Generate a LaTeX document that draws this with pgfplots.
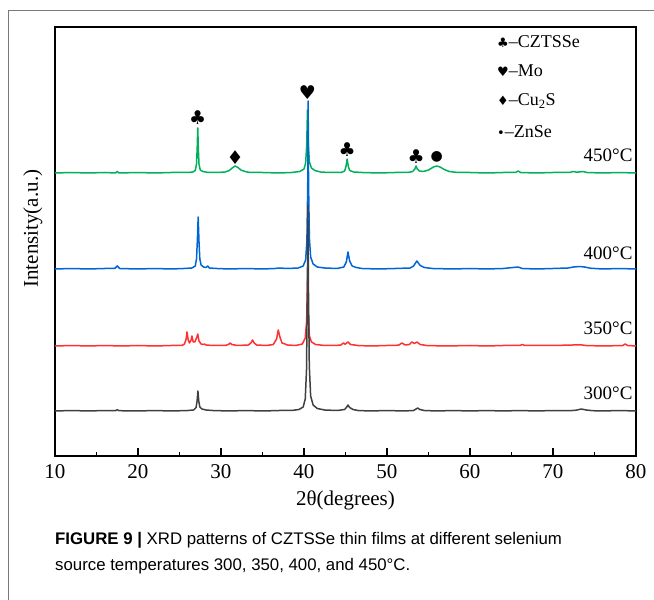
\documentclass[border=0pt]{standalone}
\usepackage{pgfplots}
\pgfplotsset{compat=1.18}
\usepackage{fontspec}
\setmainfont{Liberation Serif}
\newfontfamily\symfont{DejaVu Sans}
\newfontfamily\capfont{Liberation Sans}

\definecolor{cgreen}{RGB}{0,176,90}
\definecolor{cblue}{RGB}{0,102,214}
\definecolor{cred}{RGB}{255,48,48}
\definecolor{cgray}{RGB}{64,64,64}
\definecolor{frame}{RGB}{120,120,120}

\begin{document}
\begin{tikzpicture}
\useasboundingbox (-55pt,-144pt) rectangle (599pt,456pt);
% figure frame lines
\draw[frame,line width=0.8pt] (-47pt,446pt) -- (599pt,446pt);
\draw[frame,line width=0.8pt] (-47pt,446pt) -- (-47pt,-144pt);
\begin{axis}[
  scale only axis,
  width=581pt, height=429pt,
  xmin=10, xmax=80, ymin=0, ymax=429,
  xtick={10,20,...,80},
  minor x tick num=1,
  ytick=\empty,
  xtick pos=bottom,
  tick align=inside,
  major tick length=8pt,
  minor tick length=4pt,
  axis line style={line width=1.2pt},
  every tick/.style={black,line width=1.2pt},
  /pgf/number format/assume math mode=true,
  ticklabel style={font=\fontsize{21}{24}\selectfont},
  xticklabel style={yshift=-5pt},
  xlabel={2θ(degrees)},
  xlabel style={font=\fontsize{21}{24}\selectfont, yshift=-5pt},
  ylabel={Intensity(a.u.)},
  ylabel style={font=\fontsize{21}{24}\selectfont, at={(axis description cs:-0.038,0.53)}, anchor=center},
  every axis plot/.append style={line width=1.5pt, no marks, line join=round},
  clip=false,
]
% 450 C
\addplot[cgreen] coordinates {
(10,283) (12,283.5) (14,283) (16,283.5) (17.3,283) (17.5,284.5) (17.7,283) (20,283.5) (22,283) (24,283.5) (26,283.5) (26.6,284) (26.9,285.5) (27.05,292) (27.13,307) (27.2,328) (27.27,307) (27.35,292) (27.5,286) (27.8,284.5) (28.5,283.5) (29.5,283.5) (30.5,284) (31.0,285.5) (31.35,288) (31.7,290) (32.05,288.5) (32.4,286) (32.9,284.5) (33.5,283.5) (35,283.5) (37,283) (38.5,283.5) (39.5,284.5) (40.0,287) (40.2,293) (40.32,310) (40.42,346) (40.52,312) (40.65,294) (40.9,288) (41.3,285.5) (42,284) (43,283.5) (44.5,283.5) (44.9,285) (45.07,290) (45.2,297) (45.33,290) (45.5,285.5) (46,284) (47,283.5) (49,283) (51,283.5) (52.5,283.5) (53.1,284.5) (53.35,287) (53.5,290) (53.65,287) (53.9,285) (54.4,284.5) (55.0,286) (55.6,289) (56.0,290) (56.4,289) (56.9,286.5) (57.5,284.5) (58.5,283.5) (60,283.5) (62,283) (64,283.5) (65.5,283.5) (65.8,285) (66.1,283.5) (68,283) (70,283.5) (72,283.5) (72.4,284.5) (72.9,283.8) (73.6,284.5) (74.1,283.5) (76,283) (78,283.5) (80,283)
};
% 400 C
\addplot[cblue] coordinates {
(10,187) (12,187.5) (14,187) (16,187.5) (17.2,187.5) (17.5,190) (17.8,187.5) (20,187) (22,187.5) (24,187) (25.5,187.5) (26.5,188) (26.9,190) (27.05,197) (27.15,215) (27.25,239) (27.35,214) (27.45,197) (27.6,191) (27.9,189) (28.2,188.5) (28.4,190) (28.6,188) (29.5,187.5) (31,187) (33,187.5) (35,187) (36.5,187.5) (37,188) (38,187.5) (39.3,188) (39.9,190) (40.2,196) (40.35,215) (40.45,270) (40.5,355) (40.55,272) (40.65,218) (40.8,199) (41.1,192) (41.6,189) (42.5,188) (44,187.5) (44.8,189) (45.1,194) (45.3,204) (45.5,195) (45.8,190) (46.3,188.5) (47,187.5) (49,187) (51,187.5) (52.8,188) (53.2,190) (53.6,195) (54.0,190.5) (54.5,188.5) (55.5,187.5) (58,187) (60,187.5) (62,187) (64,187.5) (65.8,189) (66.3,187.5) (68,187) (70,187.5) (71.8,188) (72.5,189) (73.2,189.5) (73.8,189) (74.5,187.8) (76,187) (78,187.5) (80,187)
};
% 350 C
\addplot[cred] coordinates {
(10,110) (12,110.5) (14,110) (16,110.5) (18,110) (20,110.5) (22,110) (24,110.5) (25.3,110.5) (25.6,112) (25.8,117) (25.9,124) (26.05,116) (26.2,113) (26.4,116) (26.5,120) (26.65,114) (26.85,114) (27.1,119) (27.2,122) (27.35,115) (27.6,112) (27.9,111.5) (28.0,112) (28.2,111) (29,110.5) (30.5,110.5) (30.9,111.5) (31.1,113) (31.3,111.5) (32,110.5) (33.3,111) (33.6,113) (33.8,116) (34.0,113) (34.3,111) (35.5,110.5) (36.3,111.5) (36.7,117) (36.9,126) (37.1,119) (37.35,113) (37.7,112) (38.0,111) (39.0,110.5) (39.8,112) (40.15,118) (40.32,135) (40.43,178) (40.52,140) (40.65,120) (40.9,114) (41.4,111.5) (42.5,110.5) (44.4,110.8) (44.75,113) (44.95,111.8) (45.3,114) (45.6,111.5) (46.5,110.5) (48,110) (50,110.5) (51.4,110.8) (51.8,113) (52.2,111) (52.7,111.5) (53.0,114) (53.3,112.5) (53.6,114) (54.0,111.5) (54.8,110.5) (57,110) (60,110.5) (62,110) (64,110.5) (66.0,110.5) (66.3,111.5) (66.6,110.5) (70,110.5) (73.3,111.2) (74,110.5) (76,110) (78.4,110.5) (78.7,112) (79.0,110.5) (80,110)
};
% 300 C
\addplot[cgray] coordinates {
(10,45) (12,45.5) (14,45) (16,45.5) (17.3,45.3) (17.5,46.3) (17.7,45.3) (20,45) (22,45.5) (24,45) (26,45.5) (26.7,46) (27.0,48.5) (27.12,55) (27.22,65) (27.32,55) (27.45,49) (27.7,47) (28.2,46) (29,45.5) (31,45) (33,45.5) (35,45) (37,45.5) (38.5,45.5) (39.4,46.5) (39.9,49) (40.15,57) (40.3,85) (40.4,160) (40.47,251) (40.54,165) (40.64,90) (40.8,60) (41.1,51) (41.6,47.5) (42.5,46) (44,45.5) (44.9,46.5) (45.15,49) (45.3,51) (45.5,48.5) (45.9,46.5) (46.5,45.5) (48,45) (50,45.5) (52,45) (53.2,45.5) (53.5,47) (53.7,48) (53.95,46.5) (54.5,45.5) (56,45) (58,45.5) (60,45) (62,45.5) (64,45) (66,45.5) (68,45) (70,45.5) (72,45.3) (72.8,45.8) (73.4,47) (74.0,46) (74.8,45.3) (76,45) (78,45.5) (80,45)
};
% peak symbols
\begin{scope}[every node/.style={font=\symfont\fontsize{19}{19}\selectfont, inner sep=0pt}]
\node at (axis cs:27.2,338) {♣};
\node at (axis cs:31.7,298) {♦};
\node at (axis cs:40.4,363) {♥};
\node at (axis cs:45.2,306) {♣};
\node at (axis cs:53.5,299) {♣};
\node at (axis cs:56.0,299) {\fontsize{14}{14}\selectfont ●};
\end{scope}
% temperature labels
\begin{scope}[every node/.style={font=\fontsize{19}{22}\selectfont, anchor=east, inner sep=0pt}]
\node at (axis cs:79.6,301) {450°C};
\node at (axis cs:79.6,203) {400°C};
\node at (axis cs:79.6,128) {350°C};
\node at (axis cs:79.6,63) {300°C};
\end{scope}
\end{axis}
% phase legend
\begin{scope}[every node/.style={anchor=west, inner sep=0pt, font=\fontsize{18}{20}\selectfont}]
\node at (442pt,414pt) {{\symfont\fontsize{13}{13}\selectfont ♣}–CZTSSe};
\node at (442pt,385pt) {{\symfont\fontsize{13}{13}\selectfont ♥}–Mo};
\node at (442pt,355pt) {{\symfont\fontsize{13}{13}\selectfont ♦}–Cu\textsubscript{2}S};
\node at (442pt,324pt) {{\symfont\fontsize{13}{13}\selectfont •}–ZnSe};
\end{scope}
% caption
\begin{scope}[every node/.style={anchor=west, inner sep=0pt, font=\capfont\fontsize{16.8}{18}\selectfont}]
\node at (0pt,-84pt) {\textbf{FIGURE 9 |} XRD patterns of CZTSSe thin films at different selenium};
\node at (0pt,-110pt) {source temperatures 300, 350, 400, and 450\textdegree C.};
\end{scope}
\end{tikzpicture}
\end{document}
